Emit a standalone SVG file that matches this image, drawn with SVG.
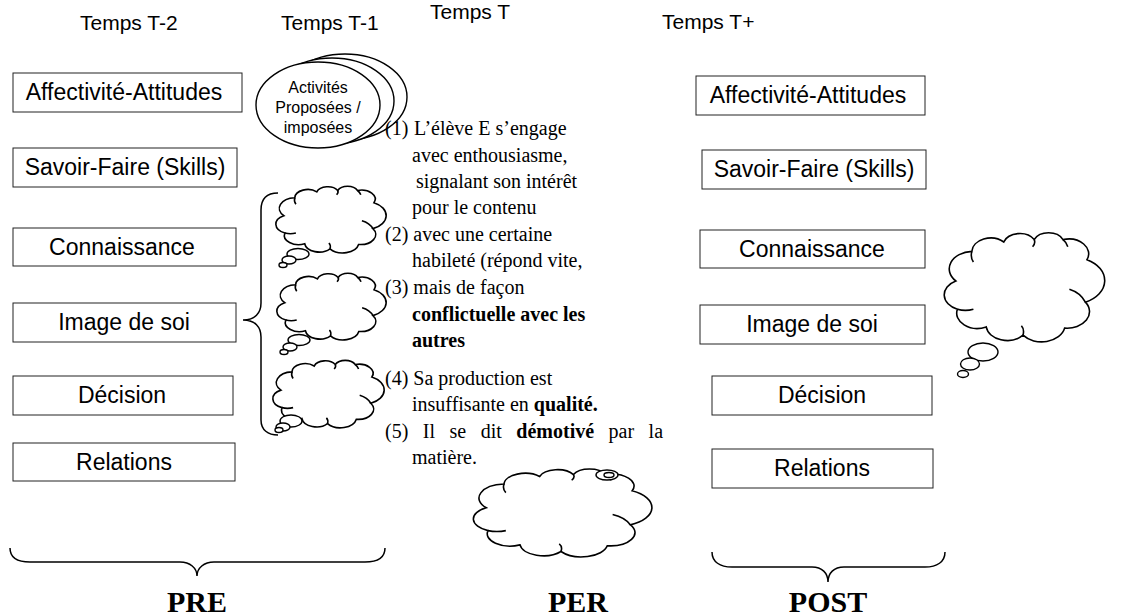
<svg xmlns="http://www.w3.org/2000/svg" xmlns:xlink="http://www.w3.org/1999/xlink" width="1133" height="616" viewBox="0 0 1133 616">
  <style>
    .box { fill: #fff; stroke: #222; stroke-width: 1; }
    .lbl { font-family: "Liberation Sans", Arial, sans-serif; font-size: 23px; fill: #000; text-anchor: middle; }
    .hdr { font-family: "Liberation Sans", Arial, sans-serif; font-size: 21px; fill: #000; }
    .act { font-family: "Liberation Sans", Arial, sans-serif; font-size: 16px; fill: #000; text-anchor: middle; }
    .body { font-family: "Liberation Serif", "Times New Roman", serif; font-size: 20px; fill: #000; }
    .b { font-weight: bold; }
    .just { word-spacing: 9.5px; }
    .phase { font-family: "Liberation Serif", "Times New Roman", serif; font-size: 30px; font-weight: bold; fill: #000; text-anchor: middle; }
    .line { fill: none; stroke: #000; stroke-width: 1.5; }
    .cloud { fill: #fff; stroke: #000; stroke-width: 1.6; }
    .bub { fill: #fff; stroke: #000; stroke-width: 1.4; }
  </style>
  <defs>
    <!-- thought cloud drawn in a 100x100 unit box -->
    <g id="cloud">
      <path class="cloud" vector-effect="non-scaling-stroke" d="M 8 44 A 14.8 14.8 0 0 1 18 19 A 11.8 11.8 0 0 1 38 11 A 10.5 10.5 0 0 1 57 9 A 9.9 9.9 0 0 1 75 9 A 12.5 12.5 0 0 1 90 26 A 19.8 19.8 0 0 1 89 62 A 14 14 0 0 1 76 84 A 14.7 14.7 0 0 1 50 90 A 13.2 13.2 0 0 1 27 83 A 12.9 12.9 0 0 1 9 68 A 13.2 13.2 0 0 1 8 44 Z"/>
      <path class="cloud" vector-effect="non-scaling-stroke" style="fill:none" d="M 9 68 q 5 2 10 0 M 18 19 q -1 5 1 9 M 57 9 q 1 3 -1 6 M 89 62 q -3 -8 -10 -11 M 50 90 q 1 -5 -1 -8 M 75 9 q 2 2 3 6"/>
    </g>
  </defs>

  <!-- column headings -->
  <g id="headings">
    <text class="hdr" x="80" y="30">Temps T-2</text>
    <text class="hdr" x="281" y="30">Temps T-1</text>
    <text class="hdr" x="430" y="19">Temps T</text>
    <text class="hdr" x="662" y="29">Temps T+</text>
  </g>

  <!-- PRE column boxes -->
  <g id="pre-affectivite"><rect class="box" x="13" y="73" width="229" height="39"/><text class="lbl" x="124" y="100">Affectivité-Attitudes</text></g>
  <g id="pre-savoir-faire"><rect class="box" x="13" y="148" width="224" height="39"/><text class="lbl" x="125" y="175">Savoir-Faire (Skills)</text></g>
  <g id="pre-connaissance"><rect class="box" x="13" y="228" width="223" height="38"/><text class="lbl" x="122" y="255">Connaissance</text></g>
  <g id="pre-image"><rect class="box" x="13" y="303" width="223" height="39"/><text class="lbl" x="124" y="330">Image de soi</text></g>
  <g id="pre-decision"><rect class="box" x="13" y="376" width="220" height="39"/><text class="lbl" x="122" y="403">Décision</text></g>
  <g id="pre-relations"><rect class="box" x="13" y="443" width="222" height="38"/><text class="lbl" x="124" y="470">Relations</text></g>

  <!-- stacked activity ellipses -->
  <g id="activites">
    <ellipse class="bub" cx="345" cy="97" rx="62" ry="43"/>
    <ellipse class="bub" cx="332" cy="101" rx="62" ry="43"/>
    <ellipse class="bub" cx="318" cy="105" rx="62" ry="43"/>
    <text class="act" x="318" y="93">Activités</text>
    <text class="act" x="318" y="113">Proposées /</text>
    <text class="act" x="318" y="133">imposées</text>
  </g>

  <!-- thought clouds, T-1 column -->
  <g id="cloud-1">
    <use xlink:href="#cloud" transform="translate(275,184) scale(1.1,0.72)"/>
    <ellipse class="bub" cx="298" cy="254" rx="11" ry="5.5"/>
    <ellipse class="bub" cx="289" cy="260" rx="7" ry="4"/>
    <ellipse class="bub" cx="283" cy="265" rx="4" ry="2.5"/>
  </g>
  <g id="cloud-2">
    <use xlink:href="#cloud" transform="translate(276,271) scale(1.09,0.72)"/>
    <ellipse class="bub" cx="299" cy="340" rx="11" ry="5.5"/>
    <ellipse class="bub" cx="290" cy="347" rx="7" ry="4"/>
    <ellipse class="bub" cx="284" cy="352" rx="4" ry="2.5"/>
  </g>
  <g id="cloud-3">
    <use xlink:href="#cloud" transform="translate(272,358) scale(1.11,0.73)"/>
    <ellipse class="bub" cx="291" cy="421" rx="11" ry="6"/>
    <ellipse class="bub" cx="283" cy="427" rx="7" ry="4"/>
    <ellipse class="bub" cx="279" cy="430" rx="4" ry="2.5"/>
  </g>

  <!-- cloud under the central text -->
  <g id="cloud-4">
    <use xlink:href="#cloud" transform="translate(472,466) scale(1.78,0.95)"/>
    <ellipse class="bub" cx="607" cy="475" rx="11" ry="5"/>
    <ellipse class="bub" cx="609" cy="475" rx="5" ry="2.5"/>
  </g>

  <!-- central observation text -->
  <g id="observations" class="body">
    <text x="385" y="135">(1)<tspan x="414">L’élève E s’engage</tspan></text>
    <text x="412" y="162">avec enthousiasme,</text>
    <text x="416" y="188">signalant son intérêt</text>
    <text x="412" y="214">pour le contenu</text>
    <text x="385" y="241">(2) avec une certaine</text>
    <text x="412" y="267">habileté (répond vite,</text>
    <text x="385" y="294">(3) mais de façon</text>
    <text x="412" y="321" class="b">conflictuelle avec les</text>
    <text x="412" y="347" class="b">autres</text>
    <text x="385" y="385">(4) Sa production est</text>
    <text x="412" y="411">insuffisante en <tspan class="b">qualité.</tspan></text>
    <text x="385" y="438" class="just">(5) Il se dit <tspan class="b">démotivé</tspan> par la</text>
    <text x="412" y="464">matière.</text>
  </g>

  <!-- POST column boxes -->
  <g id="post-affectivite"><rect class="box" x="696" y="76" width="229" height="39"/><text class="lbl" x="808" y="103">Affectivité-Attitudes</text></g>
  <g id="post-savoir-faire"><rect class="box" x="702" y="150" width="224" height="39"/><text class="lbl" x="814" y="177">Savoir-Faire (Skills)</text></g>
  <g id="post-connaissance"><rect class="box" x="700" y="230" width="225" height="38"/><text class="lbl" x="812" y="257">Connaissance</text></g>
  <g id="post-image"><rect class="box" x="700" y="305" width="225" height="39"/><text class="lbl" x="812" y="332">Image de soi</text></g>
  <g id="post-decision"><rect class="box" x="712" y="376" width="220" height="39"/><text class="lbl" x="822" y="403">Décision</text></g>
  <g id="post-relations"><rect class="box" x="712" y="449" width="221" height="39"/><text class="lbl" x="822" y="476">Relations</text></g>

  <!-- thought cloud, T+ column -->
  <g id="cloud-5">
    <use xlink:href="#cloud" transform="translate(943,229) scale(1.6,1.18)"/>
    <ellipse class="bub" cx="983" cy="352" rx="15" ry="9"/>
    <ellipse class="bub" cx="970" cy="364" rx="9.5" ry="6"/>
    <ellipse class="bub" cx="963" cy="374" rx="5.5" ry="3.5"/>
  </g>

  <!-- braces -->
  <g id="braces">
    <path class="line" d="M278,193 C268,193 261,198 261,210 L261,303 C261,313 255,320 243,320 C255,320 261,327 261,337 L261,420 C261,430 268,435 278,435"/>
    <path class="line" d="M10,548 C10,558 18,562 30,562 L180,562 C190,562 197,568 197,576 C197,568 204,562 214,562 L365,562 C377,562 385,558 385,548"/>
    <path class="line" d="M712,552 C712,562 720,567 732,567 L812,567 C822,567 828,573 828,582 C828,573 834,567 844,567 L925,567 C937,567 945,562 945,552"/>
  </g>

  <!-- phase labels -->
  <g id="phases">
    <text class="phase" x="197" y="612">PRE</text>
    <text class="phase" x="578" y="612">PER</text>
    <text class="phase" x="828" y="612">POST</text>
  </g>
</svg>
